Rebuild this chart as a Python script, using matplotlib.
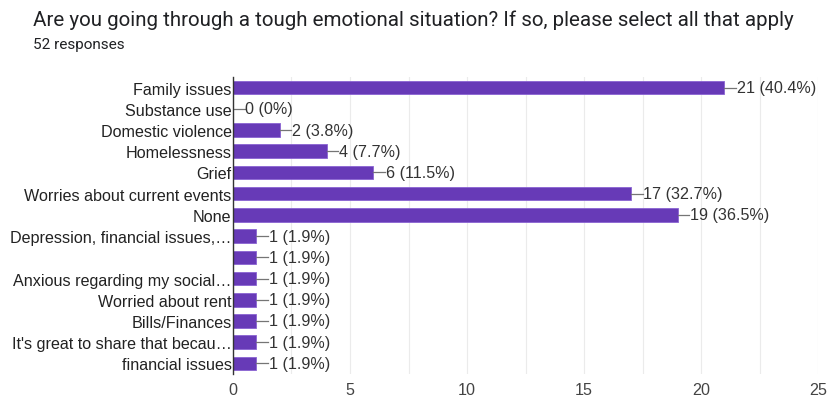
import matplotlib
matplotlib.use("Agg")
import matplotlib.pyplot as plt

categories = ["Family issues", "Substance use", "Domestic violence", "Homelessness", "Grief",
              "Worries about current events", "None", "Depression, financial issues,…", "",
              "Anxious regarding my social…", "Worried about rent", "Bills/Finances",
              "It's great to share that becau…", "financial issues"]
counts = [21, 0, 2, 4, 6, 17, 19, 1, 1, 1, 1, 1, 1, 1]
percents = ["40.4%", "0%", "3.8%", "7.7%", "11.5%", "32.7%", "36.5%",
            "1.9%", "1.9%", "1.9%", "1.9%", "1.9%", "1.9%", "1.9%"]
x_ticks = [0, 5, 10, 15, 20, 25]

plt.rcParams['font.family'] = ['Liberation Sans', 'DejaVu Sans']
fig = plt.figure(figsize=(8.28, 4.02), dpi=100)
ax = fig.add_axes([233/828, 1-375/402, (818-233)/828, (375-78)/402])

y = list(range(len(categories)))
ax.barh(y, counts, height=0.64, color="#673AB7", edgecolor="#8A63D2", linewidth=0.6, zorder=3)
for yi, c, p in zip(y, counts, percents):
    ax.plot([c, c + 0.5], [yi, yi], color="#757575", lw=0.9, zorder=3)
    ax.text(c + 0.52, yi, f"{c} ({p})", va="center", ha="left", fontsize=11.6, color="#333333", zorder=4)

ax.set_ylim(len(categories) - 0.5, -0.5)
ax.set_xlim(0, 25)
ax.set_yticks(y)
ax.set_yticklabels(categories, fontsize=11.6, color="#222222")
ax.set_xticks(x_ticks)
ax.set_xticklabels([str(t) for t in x_ticks], fontsize=11.6, color="#444444")
ax.set_xticks([2.5, 7.5, 12.5, 17.5, 22.5], minor=True)
ax.grid(axis="x", which="both", color="#EBEBEB", lw=0.8, zorder=0)
ax.tick_params(axis="both", which="both", length=0)
ax.tick_params(axis="x", pad=6)
ax.tick_params(axis="y", pad=1)
for s in ["top", "right", "bottom"]:
    ax.spines[s].set_visible(False)
ax.spines["left"].set_color("#333333")
ax.spines["left"].set_linewidth(1.0)
ax.spines["left"].set_zorder(5)

fig.text(33/828, 1-20/402, "Are you going through a tough emotional situation? If so, please select all that apply",
         fontsize=14.8, color="#202124", va="center", ha="left", family=['Roboto', 'DejaVu Sans'])
fig.text(33/828, 1-45/402, "52 responses", fontsize=11, color="#202124", va="center", ha="left",
         family=['Roboto', 'DejaVu Sans'])

fig.savefig("out.png", dpi=100)
